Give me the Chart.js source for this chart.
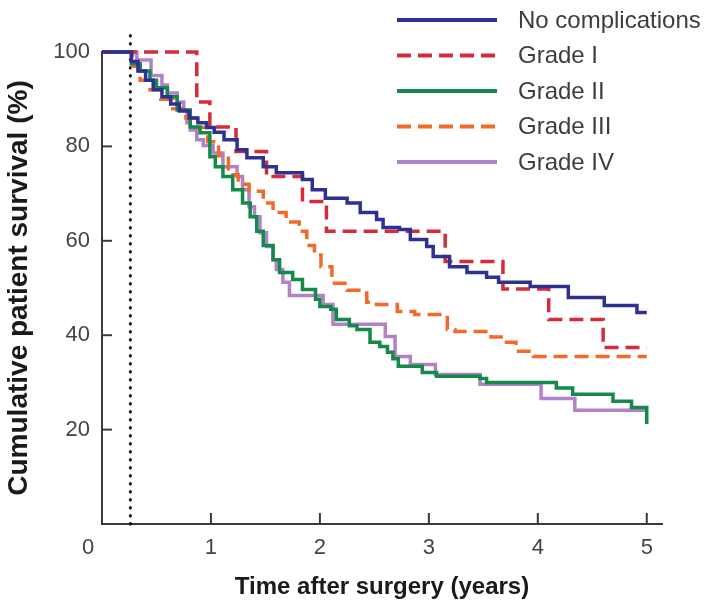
<!DOCTYPE html>
<html>
<head>
<meta charset="utf-8">
<script src="https://cdn.jsdelivr.net/npm/chart.js@4.4.1/dist/chart.umd.min.js"></script>
<style>
  body { margin: 0; background: #fff; }
  #chart { display: block; }
</style>
</head>
<body>
<canvas id="chart" width="706" height="605"></canvas>
<script>
// Kaplan-Meier curves (time in years, survival in %)
const labels = ['No complications', 'Grade I', 'Grade II', 'Grade III', 'Grade IV'];

const noCompT = [0, 0.27, 0.33, 0.40, 0.47, 0.55, 0.63, 0.71, 0.80, 0.88, 0.96, 1.03, 1.12, 1.24, 1.33, 1.48, 1.60, 1.84, 1.93, 2.05, 2.25, 2.37, 2.52, 2.58, 2.73, 2.83, 2.98, 3.04, 3.19, 3.35, 3.53, 3.64, 3.93, 4.28, 4.61, 4.91, 5.0];
const noCompS = [100, 98, 96, 94, 92, 90.5, 89, 87.5, 86, 85, 84, 83, 81.4, 79.3, 77.6, 75.7, 74.4, 73, 70.8, 69, 68, 66, 64.5, 62.8, 62.4, 60.3, 58.8, 56.7, 54.5, 53.3, 52.3, 51.2, 50.3, 48, 46.3, 44.8, 44.8];

const grade1T = [0, 0.87, 0.99, 1.23, 1.51, 1.84, 2.06, 3.15, 3.68, 4.10, 4.60, 5.0];
const grade1S = [100, 89.4, 84.1, 78.9, 73.6, 68.3, 62, 55.6, 49.8, 43.3, 37.4, 37.4];

const grade2T = [0, 0.27, 0.35, 0.44, 0.5, 0.6, 0.69, 0.81, 0.9, 0.99, 1.04, 1.11, 1.2, 1.29, 1.36, 1.42, 1.48, 1.57, 1.63, 1.75, 1.84, 1.96, 2.0, 2.1, 2.15, 2.27, 2.34, 2.46, 2.55, 2.62, 2.67, 2.72, 2.94, 3.07, 3.47, 3.53, 4.17, 4.32, 4.69, 4.86, 5.0];
const grade2S = [100, 97.5, 96, 94, 92.4, 90.5, 87.7, 84.1, 82.9, 77.8, 75.7, 73.6, 70.8, 68, 65.1, 62, 59, 56, 53.3, 51.8, 49.7, 47.6, 46.1, 45.5, 43.3, 42, 41.2, 38.5, 37.6, 36.4, 35, 33.4, 32.1, 31.3, 30.8, 30, 28.8, 27.5, 26, 24.7, 21.2];

const grade3T = [0, 0.28, 0.35, 0.44, 0.54, 0.65, 0.77, 0.86, 0.97, 1.07, 1.16, 1.25, 1.35, 1.48, 1.57, 1.69, 1.81, 1.88, 1.95, 2.01, 2.11, 2.25, 2.43, 2.52, 2.71, 2.87, 3.17, 3.24, 3.57, 3.68, 3.80, 3.96, 4.00, 5.0];
const grade3S = [100, 97, 94, 92, 90, 88, 86, 84, 81, 78, 74, 72, 70.5, 68, 66, 64, 62, 59, 57, 54.5, 51, 49.5, 47, 46.5, 45, 44.4, 41.2, 40.8, 39.6, 38.5, 36.6, 35.5, 35.5, 35.5];

const grade4T = [0, 0.32, 0.45, 0.55, 0.6, 0.69, 0.75, 0.78, 0.81, 0.87, 0.93, 1.02, 1.11, 1.24, 1.29, 1.35, 1.4, 1.45, 1.51, 1.57, 1.6, 1.66, 1.72, 2.03, 2.12, 2.6, 2.69, 2.83, 3.06, 3.47, 4.03, 4.34, 5.0];
const grade4S = [100, 98.3, 95, 93, 91.3, 89.4, 87.7, 85, 83.5, 81.4, 80.2, 78.6, 75.7, 73.6, 70.8, 67.2, 65.1, 61.7, 58.8, 56, 53.9, 51.2, 48.4, 46.5, 42.3, 39.7, 35.5, 33.8, 31.7, 29.6, 26.6, 24.1, 24.1];

// dotted reference line at ~3 months
const markerT = [0.26, 0.26];
const markerS = [0, 105];

const xTicks = [1, 2, 3, 4, 5];
const yTicks = [20, 40, 60, 80, 100];

const colors = ['#2e3192', '#d62b3a', '#13894a', '#f26a2a', '#b282c8'];
const dashes = [[], [14, 7], [], [14, 7], []];

const series = [[noCompT, noCompS], [grade1T, grade1S], [grade2T, grade2S], [grade3T, grade3S], [grade4T, grade4S]];

const toPoints = (t, s) => t.map((v, i) => ({ x: v, y: s[i] }));

const datasets = series.map(([t, s], i) => ({
    label: labels[i],
    data: toPoints(t, s),
    borderColor: colors[i],
    borderDash: dashes[i],
    borderWidth: 3.5,
    stepped: true,
    pointRadius: 0,
    fill: false,
    clip: false
}));

datasets.push({
    label: 'marker',
    data: toPoints(markerT, markerS),
    borderColor: '#111',
    borderWidth: 3,
    borderDash: [0.5, 7.5],
    borderCapStyle: 'round',
    pointRadius: 0,
    fill: false,
    clip: false
});

const tickFont = { family: 'Liberation Sans, Arial, sans-serif', size: 22 };
const axisColor = '#3a3a3a';

// inward ticks, origin label and the legend in the top right corner
const decorations = {
    id: 'decorations',
    afterDraw(chart) {
        const { ctx, chartArea, scales: { x, y } } = chart;
        ctx.save();
        ctx.strokeStyle = axisColor;
        ctx.lineWidth = 2;
        xTicks.forEach(v => {
            const px = x.getPixelForValue(v);
            ctx.beginPath();
            ctx.moveTo(px, chartArea.bottom);
            ctx.lineTo(px, chartArea.bottom - 11);
            ctx.stroke();
        });
        yTicks.slice(0, -1).forEach(v => {
            const py = y.getPixelForValue(v);
            ctx.beginPath();
            ctx.moveTo(chartArea.left, py);
            ctx.lineTo(chartArea.left + 10, py);
            ctx.stroke();
        });

        ctx.fillStyle = '#444';
        ctx.font = '22px Liberation Sans, Arial, sans-serif';
        ctx.textAlign = 'center';
        ctx.textBaseline = 'middle';
        ctx.fillText('0', x.getPixelForValue(0) - 14, chartArea.bottom + 24);

        // legend
        ctx.font = '24px Liberation Sans, Arial, sans-serif';
        ctx.textAlign = 'left';
        labels.forEach((lab, i) => {
            const ly = 20 + i * 35.5;
            ctx.strokeStyle = colors[i];
            ctx.lineWidth = 4;
            ctx.setLineDash(dashes[i]);
            ctx.beginPath();
            ctx.moveTo(397, ly);
            ctx.lineTo(497, ly);
            ctx.stroke();
            ctx.setLineDash([]);
            ctx.fillStyle = '#3d3d3d';
            ctx.fillText(lab, 518, ly + 1);
        });
        ctx.restore();
    }
};

new Chart(document.getElementById('chart'), {
    type: 'line',
    data: { datasets: datasets },
    options: {
        responsive: false,
        animation: false,
        devicePixelRatio: 1,
        layout: { padding: { left: 0, right: 44, top: 52, bottom: 0 } },
        plugins: {
            legend: { display: false },
            tooltip: { enabled: false }
        },
        scales: {
            x: {
                type: 'linear',
                min: 0,
                max: 5.14,
                afterBuildTicks: s => { s.ticks = xTicks.map(v => ({ value: v })); },
                afterFit: s => { s.height = 81; },
                grid: { display: false },
                border: { display: true, color: axisColor, width: 2 },
                ticks: { font: tickFont, color: '#444', padding: 3, maxRotation: 0 },
                title: {
                    display: true,
                    text: 'Time after surgery (years)',
                    color: '#1a1a1a',
                    font: { family: 'Liberation Sans, Arial, sans-serif', size: 24, weight: 'bold' },
                    padding: { top: 0, bottom: 3 }
                }
            },
            y: {
                min: 0,
                max: 100,
                afterBuildTicks: s => { s.ticks = yTicks.map(v => ({ value: v })); },
                afterFit: s => { s.width = 102; },
                grid: { display: false },
                border: { display: true, color: axisColor, width: 2 },
                ticks: { font: tickFont, color: '#444', padding: 4 },
                title: {
                    display: true,
                    text: 'Cumulative patient survival (%)',
                    color: '#1a1a1a',
                    font: { family: 'Liberation Sans, Arial, sans-serif', size: 28, weight: 'bold' },
                    padding: { top: 2, bottom: 0 }
                }
            }
        }
    },
    plugins: [decorations]
});
</script>
</body>
</html>
